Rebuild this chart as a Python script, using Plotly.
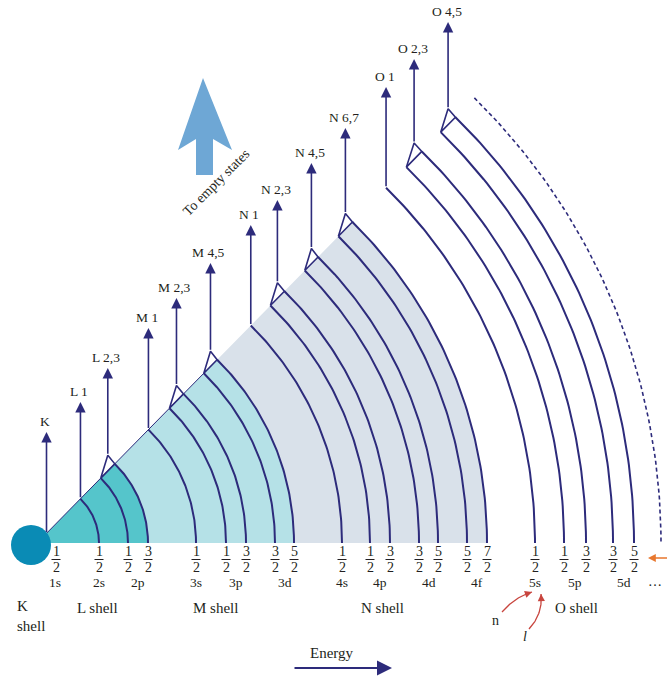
import numpy as np
import plotly.graph_objects as go

# ---------------- data ----------------
subshells = ['1s', '2s', '2p', '3s', '3p', '3d', '4s', '4p', '4d', '4f', '5s', '5p', '5d']
level_x = [[56], [99], [128, 148], [196], [226, 246], [275, 294], [342],
           [370, 390], [419, 438], [467, 487], [535], [564, 586], [613, 634]]
j_num = [[1], [1], [1, 3], [1], [1, 3], [3, 5], [1], [1, 3], [3, 5], [5, 7],
         [1], [1, 3], [3, 5]]
edge_labels = ['K', 'L 1', 'L 2,3', 'M 1', 'M 2,3', 'M 4,5', 'N 1', 'N 2,3',
               'N 4,5', 'N 6,7', 'O 1', 'O 2,3', 'O 4,5']
edge_tip_y = [432, 402, 368, 328, 298, 263, 225, 200, 163, 128, 87, 59, 22]
shell_names = ['K<br>shell', 'L shell', 'M shell', 'N shell', 'O shell']
shell_x = [15, 97, 215, 382, 576]
region_inner_x = [37, 148, 294]
region_outer_x = [148, 294, 487]
region_colors = ['#55c5cb', '#b5e1e7', '#d9e1ea']
dashed_x = 661

# ---------------- geometry helpers ----------------
cx, cy = 37.0, 543.0
theta = np.deg2rad(45.5)
navy = '#2d2b7b'
txt = '#231f20'
serif = 'Liberation Serif'


def pt(r, a):
    return cx + r * np.cos(a), cy - r * np.sin(a)


def arc(r, a0, a1, n=80):
    t = np.linspace(a0, a1, n)
    return cx + r * np.cos(t), cy - r * np.sin(t)


fig = go.Figure()

# shaded regions
for ri, ro, col in zip(region_inner_x, region_outer_x, region_colors):
    r_in, r_out = ri - cx, ro - cx
    xo, yo = arc(r_out, 0, theta)
    xi, yi = arc(r_in, theta, 0)
    xs = np.concatenate([xo, xi, [xo[0]]])
    ys = np.concatenate([yo, yi, [yo[0]]])
    fig.add_trace(go.Scatter(x=xs, y=ys, fill='toself', fillcolor=col,
                             line=dict(width=0), mode='lines', hoverinfo='skip'))

# thin edge line along the wedge (inner part)
ex, ey = pt(region_outer_x[1] - cx, theta)
fig.add_trace(go.Scatter(x=[cx, ex], y=[cy, ey], mode='lines',
                         line=dict(color=navy, width=1), hoverinfo='skip'))

# arcs
ax_all, ay_all = [], []
for k, xs in enumerate(level_x):
    if k == 0:
        continue
    for xe in xs:
        x_, y_ = arc(xe - cx, theta, 0)
        ax_all += list(x_) + [None]
        ay_all += list(y_) + [None]
fig.add_trace(go.Scatter(x=ax_all, y=ay_all, mode='lines',
                         line=dict(color=navy, width=2), hoverinfo='skip'))

# dashed outer arc
dx_, dy_ = arc(dashed_x - cx, theta, 0)
fig.add_trace(go.Scatter(x=dx_, y=dy_, mode='lines',
                         line=dict(color=navy, width=1.6, dash='4px,3px'),
                         hoverinfo='skip'))

# junctions and arrows
tri_x, tri_y = [], []
annotations = []
for k, xs in enumerate(level_x):
    if k == 0:
        bx, by = 46.5, 533.5
    elif len(xs) == 1:
        bx, by = pt(xs[0] - cx, theta)
    else:
        p1 = pt(xs[0] - cx, theta)
        p2 = pt(xs[1] - cx, theta)
        bx = 0.5 * (p1[0] + p2[0])
        by = p2[1] - 8.5
        tri_x += [p1[0], bx, p2[0], p1[0], None]
        tri_y += [p1[1], by, p2[1], p1[1], None]
    annotations.append(dict(x=bx, y=edge_tip_y[k], ax=bx, ay=by, axref='x', ayref='y',
                            xref='x', yref='y', showarrow=True, arrowhead=2,
                            arrowsize=1.3, arrowwidth=1.6, arrowcolor=navy,
                            standoff=0, text=''))
    annotations.append(dict(x=bx - 1.5, y=edge_tip_y[k] - 11, text=edge_labels[k],
                            showarrow=False, xref='x', yref='y',
                            font=dict(family=serif, size=13.5, color=txt)))
fig.add_trace(go.Scatter(x=tri_x, y=tri_y, mode='lines',
                         line=dict(color=navy, width=1.6), hoverinfo='skip'))

# fractions and subshell labels
bar_x, bar_y = [], []
for k, xs in enumerate(level_x):
    for xe, n in zip(xs, j_num[k]):
        annotations.append(dict(x=xe, y=551.5, text=str(n), showarrow=False,
                                font=dict(family=serif, size=14, color=txt)))
        annotations.append(dict(x=xe, y=567.5, text='2', showarrow=False,
                                font=dict(family=serif, size=14, color=txt)))
        bar_x += [xe - 4.5, xe + 4.5, None]
        bar_y += [559.5, 559.5, None]
    sx = float(np.mean(xs)) if k > 0 else 55
    annotations.append(dict(x=sx, y=582.5, text=subshells[k], showarrow=False,
                            font=dict(family=serif, size=13.5, color=txt)))
fig.add_trace(go.Scatter(x=bar_x, y=bar_y, mode='lines',
                         line=dict(color=txt, width=1), hoverinfo='skip'))
annotations.append(dict(x=655, y=581, text='…', showarrow=False,
                        font=dict(family=serif, size=14, color=txt)))

# shell labels
for k, (name, sx) in enumerate(zip(shell_names, shell_x)):
    if k == 0:
        annotations.append(dict(x=sx, y=616, text=name, showarrow=False, xanchor='left',
                                align='left', font=dict(family=serif, size=15, color=txt)))
    else:
        annotations.append(dict(x=sx, y=608, text=name, showarrow=False,
                                font=dict(family=serif, size=15, color=txt)))

# nucleus circle
fig.add_trace(go.Scatter(x=[31], y=[545], mode='markers',
                         marker=dict(size=40, color='#0a8bb5', line=dict(width=0)),
                         hoverinfo='skip'))

# big "to empty states" arrow
bxp = [203, 232, 213, 213, 196, 196, 178, 203]
byp = [78, 150, 139, 175, 175, 139, 150, 78]
fig.add_trace(go.Scatter(x=bxp, y=byp, fill='toself', fillcolor='#6ea7d5',
                         line=dict(width=0), mode='lines', hoverinfo='skip'))
annotations.append(dict(x=216, y=182, text='To empty states', showarrow=False,
                        textangle=-45, font=dict(family=serif, size=14, color=txt)))

# energy arrow
annotations.append(dict(x=392, y=668, ax=293, ay=668, axref='x', ayref='y',
                        showarrow=True, arrowhead=2, arrowsize=1.5, arrowwidth=2,
                        arrowcolor=navy, standoff=0, text=''))
annotations.append(dict(x=332, y=653, text='Energy', showarrow=False,
                        font=dict(family=serif, size=15, color=txt)))

# orange arrow
annotations.append(dict(x=648, y=558, ax=669, ay=558, axref='x', ayref='y',
                        showarrow=True, arrowhead=2, arrowsize=1.2, arrowwidth=1.3,
                        arrowcolor='#e8772e', standoff=0, text=''))

# n and l pointers
red = '#c8453e'


def bez(p0, c, p2, n=40):
    t = np.linspace(0, 1, n)
    x = (1 - t) ** 2 * p0[0] + 2 * (1 - t) * t * c[0] + t ** 2 * p2[0]
    y = (1 - t) ** 2 * p0[1] + 2 * (1 - t) * t * c[1] + t ** 2 * p2[1]
    return x, y


for p0, c, p2 in [((502, 612), (515, 597), (532, 592)),
                  ((529, 629), (543, 614), (541, 594))]:
    x_, y_ = bez(p0, c, p2)
    fig.add_trace(go.Scatter(x=x_, y=y_, mode='lines', line=dict(color=red, width=1.3),
                             hoverinfo='skip'))
    annotations.append(dict(x=x_[-1], y=y_[-1], ax=x_[-6], ay=y_[-6], axref='x', ayref='y',
                            showarrow=True, arrowhead=2, arrowsize=1.1, arrowwidth=1.3,
                            arrowcolor=red, standoff=0, text=''))
annotations.append(dict(x=495, y=620, text='n', showarrow=False,
                        font=dict(family=serif, size=14, color=txt)))
annotations.append(dict(x=525, y=636, text='<i>l</i>', showarrow=False,
                        font=dict(family=serif, size=14, color=txt)))

for a in annotations:
    a.setdefault('xref', 'x')
    a.setdefault('yref', 'y')

fig.update_layout(
    width=667, height=680, autosize=False,
    margin=dict(l=0, r=0, t=0, b=0),
    paper_bgcolor='white', plot_bgcolor='white',
    showlegend=False,
    xaxis=dict(range=[0, 667], visible=False, fixedrange=True),
    yaxis=dict(range=[680, 0], visible=False, fixedrange=True),
    annotations=annotations,
)
fig.write_html('out.html', config={'displayModeBar': False},
               post_script="document.body.style.margin='0';document.body.style.overflow='hidden';")
